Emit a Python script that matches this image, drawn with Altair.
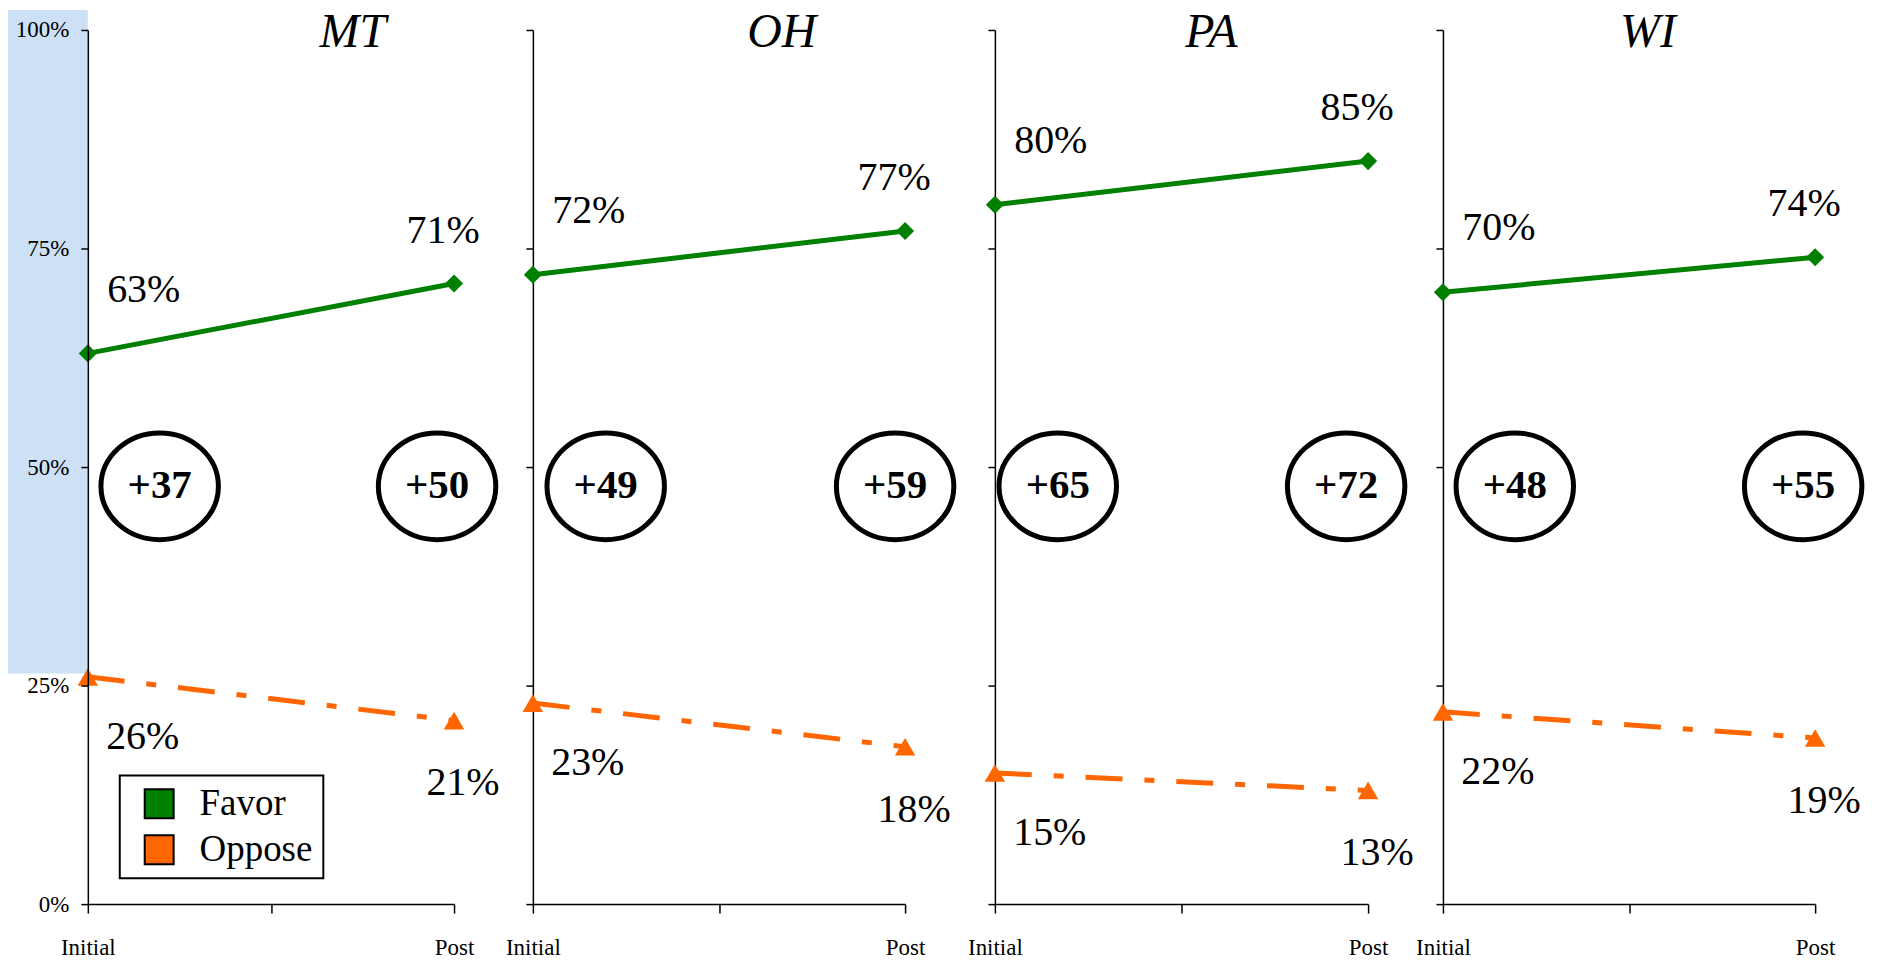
import altair as alt
import pandas as pd

# ---- data ----
states = ["MT", "OH", "PA", "WI"]
stages = ["Initial", "Post"]
series = ["Favor", "Oppose"]
favor_initial = [63, 72, 80, 70]
favor_post = [71, 77, 85, 74]
oppose_initial = [26, 23, 15, 22]
oppose_post = [21, 18, 13, 19]
y_ticks = [0, 25, 50, 75, 100]
x_domain = ["Initial", "mid", "Post"]

# ---- style ----
FONT = "Liberation Serif"
GREEN = "#008000"
ORANGE = "#FF6600"
plot_widths = [367, 373, 374, 373]      # drawn axis length of each panel
group_widths = [371, 388, 374, 373]     # panel slot width (uneven gaps)
SPACING = 75
panel_height = 876
title_dx = [82, 63, 30, 19]
ell_dx_initial = [72, 73, 63, 72]
ell_dx_post = [-17, -10, -22, -12]

rows = []
for i, s in enumerate(states):
    for stg, fv, ov in [("Initial", favor_initial[i], oppose_initial[i]),
                         ("Post", favor_post[i], oppose_post[i])]:
        rows.append({"state": s, "stage": stg, "series": "Favor", "value": fv, "label": f"{fv}%"})
        rows.append({"state": s, "stage": stg, "series": "Oppose", "value": ov, "label": f"{ov}%"})
df = pd.DataFrame(rows)

net_rows = []
for i, s in enumerate(states):
    net_rows.append({"state": s, "stage": "Initial", "net": f"+{favor_initial[i] - oppose_initial[i]}"})
    net_rows.append({"state": s, "stage": "Post", "net": f"+{favor_post[i] - oppose_post[i]}"})
net_df = pd.DataFrame(net_rows)

color_scale = alt.Scale(domain=series, range=[GREEN, ORANGE])
ELLIPSE = "M -1.1,0 A 1.1,1 0 1,1 1.1,0 A 1.1,1 0 1,1 -1.1,0 Z"


def panel(i):
    s = states[i]
    first = i == 0
    d = df[df.state == s]
    nd = net_df[net_df.state == s]

    x_axis = alt.Axis(title=None, labelExpr="datum.value == 'mid' ? '' : datum.value")
    if first:
        y_axis = alt.Axis(title=None, values=y_ticks, labelExpr="datum.value + '%'", zindex=2)
    else:
        y_axis = alt.Axis(title=None, values=y_ticks, labels=False)

    x_scale = alt.Scale(type="point", domain=x_domain, padding=0, range=[0, plot_widths[i]])
    y_scale = alt.Scale(domain=[0, 100])
    x = alt.X("stage:N", scale=x_scale, axis=x_axis)
    y = alt.Y("value:Q", scale=y_scale, axis=y_axis)

    base = alt.Chart(d)
    fav = base.transform_filter("datum.series == 'Favor'")
    opp = base.transform_filter("datum.series == 'Oppose'")
    line_f = fav.mark_line(strokeWidth=5, color=GREEN).encode(x=x, y=y)
    line_o = opp.mark_line(strokeWidth=5, color=ORANGE, strokeDash=[37, 22, 10, 22]).encode(x=x, y=y)

    if first:
        legend = alt.Legend(
            title=None, orient="none", legendX=32, legendY=747,
            symbolType="square", symbolSize=841, symbolStrokeColor="black",
            symbolStrokeWidth=2, symbolOffset=11, labelFont=FONT, labelFontSize=37,
            labelColor="black", labelOffset=22, rowPadding=8,
            labelExpr="datum.label + '  '",
            strokeColor="black", fillColor="white", padding=10,
        )
    else:
        legend = None
    fill = alt.Fill("series:N", scale=color_scale, legend=legend)
    pts_f = fav.mark_point(shape="diamond", filled=True, size=330, opacity=1).encode(x=x, y=y, fill=fill)
    pts_o = opp.mark_point(shape="triangle-up", filled=True, size=420, opacity=1).encode(x=x, y=y, fill=fill)

    txt_style = dict(font=FONT, fontSize=40, color="black", align="center", baseline="middle")
    lab_fi = base.transform_filter("datum.series == 'Favor' && datum.stage == 'Initial'").mark_text(dx=56, dy=-64, **txt_style).encode(x=x, y=y, text="label:N")
    lab_fp = base.transform_filter("datum.series == 'Favor' && datum.stage == 'Post'").mark_text(dx=-11, dy=-53, **txt_style).encode(x=x, y=y, text="label:N")
    lab_oi = base.transform_filter("datum.series == 'Oppose' && datum.stage == 'Initial'").mark_text(dx=55, dy=60, **txt_style).encode(x=x, y=y, text="label:N")
    lab_op = base.transform_filter("datum.series == 'Oppose' && datum.stage == 'Post'").mark_text(dx=9, dy=63, **txt_style).encode(x=x, y=y, text="label:N")

    nbase = alt.Chart(nd)
    layers = []
    for stg, off in [("Initial", ell_dx_initial[i]), ("Post", ell_dx_post[i])]:
        f = nbase.transform_filter(f"datum.stage == '{stg}'")
        ell = f.mark_point(shape=ELLIPSE, size=11449, stroke="black", strokeWidth=5,
                           filled=False, opacity=1, xOffset=off).encode(
            x=x, y=alt.Y(datum=47.8, scale=y_scale, axis=y_axis))
        nt = f.mark_text(font=FONT, fontSize=41, fontWeight="bold", color="black",
                         align="center", baseline="middle", dx=off).encode(
            x=x, y=alt.Y(datum=47.8, scale=y_scale, axis=y_axis), text="net:N")
        layers += [ell, nt]

    title = alt.Chart(nd).transform_filter("datum.stage == 'Initial'").mark_text(
        font=FONT, fontSize=48, fontStyle="italic", color="black",
        align="center", baseline="middle", dx=title_dx[i], dy=3,
    ).encode(
        x=alt.X(datum="mid", scale=x_scale, axis=x_axis),
        y=alt.Y(datum=100, scale=y_scale, axis=y_axis),
        text=alt.value(s),
    )

    all_layers = []
    if first:
        rect = alt.Chart(nd).transform_filter("datum.stage == 'Initial'").mark_rect(color="#CCE1F6").encode(
            x=alt.value(-80), x2=alt.value(0), y=alt.value(-20), y2=alt.value(645))
        all_layers.append(rect)
    all_layers += [line_f, line_o, pts_f, pts_o, lab_fi, lab_fp, lab_oi, lab_op] + layers + [title]

    return alt.layer(*all_layers).properties(width=group_widths[i], height=panel_height)


ind = dict(fill="independent", x="independent", y="independent")
chart = alt.hconcat(*[panel(i) for i in range(4)], spacing=SPACING, bounds="flush").resolve_scale(**ind).resolve_legend(
    fill="independent"
).properties(
    padding={"left": 0, "top": 0, "right": 5, "bottom": 0}, background="white",
).configure_view(stroke=None).configure_legend(strokeWidth=2).configure_axis(
    grid=False, domainColor="black", domainWidth=1.5, tickColor="black", tickWidth=1.5,
    labelFont=FONT, labelFontSize=23, labelColor="black", labelOverlap=False,
).configure_axisX(
    tickSize=9, labelPadding=24, labelAngle=0,
).configure_axisY(
    tickSize=7, labelPadding=12,
)

chart.save("out.html", embed_options={"renderer": "svg", "actions": False})
